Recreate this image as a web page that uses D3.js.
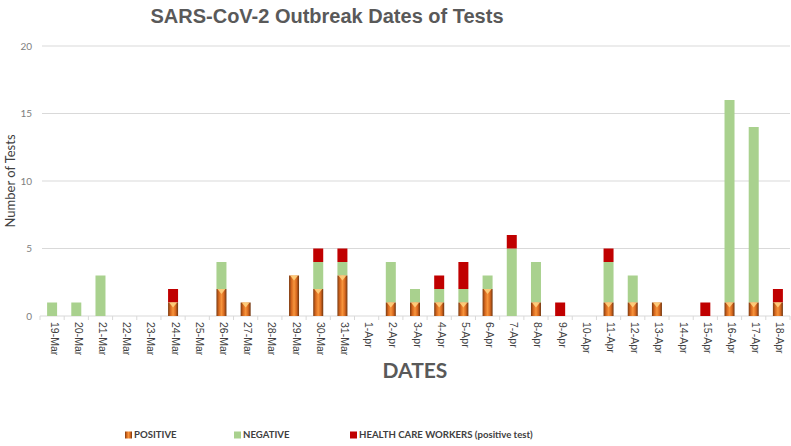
<!DOCTYPE html>
<html>
<head>
<meta charset="utf-8">
<script src="https://cdn.jsdelivr.net/npm/d3@7"></script>
<style>
  body { margin: 0; background: #fff; }
  svg { display: block; }
</style>
</head>
<body>
<div id="chart"></div>
<script>
const dates = ["19-Mar","20-Mar","21-Mar","22-Mar","23-Mar","24-Mar","25-Mar","26-Mar","27-Mar","28-Mar",
  "29-Mar","30-Mar","31-Mar","1-Apr","2-Apr","3-Apr","4-Apr","5-Apr","6-Apr","7-Apr","8-Apr","9-Apr",
  "10-Apr","11-Apr","12-Apr","13-Apr","14-Apr","15-Apr","16-Apr","17-Apr","18-Apr"];
const positive = [0,0,0,0,0,1,0,2,1,0,3,2,3,0,1,1,1,1,2,0,1,0,0,1,1,1,0,0,1,1,1];
const negative = [1,1,3,0,0,0,0,2,0,0,0,2,1,0,3,1,1,1,1,5,3,0,0,3,2,0,0,0,15,13,0];
const healthWorkers = [0,0,0,0,0,1,0,0,0,0,0,1,1,0,0,0,1,2,0,1,0,1,0,1,0,0,0,1,0,0,1];
const yTicks = [0, 5, 10, 15, 20];

const width = 791, height = 446;
const margin = { left: 40, right: 1, top: 46, bottom: 130 };

const svg = d3.select("#chart").append("svg")
  .attr("width", width)
  .attr("height", height);

// gradient for the "3D" positive bars
const defs = svg.append("defs");
const grad = defs.append("linearGradient").attr("id", "posGrad")
  .attr("x1", "0%").attr("x2", "100%").attr("y1", "0%").attr("y2", "0%");
grad.append("stop").attr("offset", "0%").attr("stop-color", "#7b3a10");
grad.append("stop").attr("offset", "25%").attr("stop-color", "#d8691f");
grad.append("stop").attr("offset", "50%").attr("stop-color", "#f7953c");
grad.append("stop").attr("offset", "75%").attr("stop-color", "#d8691f");
grad.append("stop").attr("offset", "100%").attr("stop-color", "#6e330d");

const x = d3.scaleBand()
  .domain(dates)
  .range([margin.left, width - margin.right])
  .padding(0);

const y = d3.scaleLinear()
  .domain([0, 20])
  .range([height - margin.bottom, margin.top]);

const barW = 10;

// gridlines
svg.append("g")
  .selectAll("line")
  .data(yTicks.filter(d => d > 0))
  .join("line")
  .attr("x1", margin.left + 2)
  .attr("x2", width - margin.right)
  .attr("y1", d => y(d))
  .attr("y2", d => y(d))
  .attr("stroke", "#d9d9d9")
  .attr("stroke-width", 1);

// y tick labels
svg.append("g")
  .selectAll("text")
  .data(yTicks)
  .join("text")
  .attr("x", 32)
  .attr("y", d => y(d))
  .attr("dy", "0.35em")
  .attr("text-anchor", "end")
  .attr("fill", "#808080")
  .attr("font-family", "Lato, 'Open Sans', sans-serif")
  .attr("font-size", "10px")
  .text(d => d);

// x axis line and boundary ticks
svg.append("line")
  .attr("x1", margin.left)
  .attr("x2", width - margin.right)
  .attr("y1", y(0))
  .attr("y2", y(0))
  .attr("stroke", "#d9d9d9");

svg.append("g")
  .selectAll("line")
  .data(dates.concat(["end"]))
  .join("line")
  .attr("x1", (d, i) => margin.left + i * x.step())
  .attr("x2", (d, i) => margin.left + i * x.step())
  .attr("y1", y(0))
  .attr("y2", y(0) + 4)
  .attr("stroke", "#d9d9d9");

// stacked data
const rows = dates.map((d, i) => ({
  date: d,
  positive: positive[i],
  negative: negative[i],
  hcw: healthWorkers[i]
}));
const stack = d3.stack().keys(["positive", "negative", "hcw"]);
const series = stack(rows);
const colors = { negative: "#a9d18e", hcw: "#c00000" };

const bx = d => x(d.data.date) + x.bandwidth() / 2 - barW / 2;

// negative and HCW segments
series.filter(s => s.key !== "positive").forEach(s => {
  svg.append("g")
    .selectAll("rect")
    .data(s.filter(d => d[1] > d[0]))
    .join("rect")
    .attr("x", bx)
    .attr("y", d => y(d[1]))
    .attr("width", barW)
    .attr("height", d => y(d[0]) - y(d[1]))
    .attr("fill", colors[s.key]);
});

// positive segments with bevel look
const posData = series[0].filter(d => d[1] > d[0]);
const posG = svg.append("g");
posG.selectAll("rect")
  .data(posData)
  .join("rect")
  .attr("x", bx)
  .attr("y", d => y(d[1]))
  .attr("width", barW)
  .attr("height", d => y(d[0]) - y(d[1]))
  .attr("fill", "url(#posGrad)");
posG.selectAll("path")
  .data(posData)
  .join("path")
  .attr("d", d => {
    const x0 = bx(d), t = y(d[1]);
    return `M${x0 + 1},${t} L${x0 + barW - 1},${t} L${x0 + barW / 2},${t + 5} Z`;
  })
  .attr("fill", "#ffd27f")
  .attr("opacity", 0.9);

// x labels (rotated)
svg.append("g")
  .selectAll("text")
  .data(dates)
  .join("text")
  .attr("transform", d => `translate(${x(d) + x.bandwidth() / 2 - 1.5},${y(0) + 6}) rotate(90)`)
  .attr("text-anchor", "start")
  .attr("fill", "#404040")
  .attr("font-family", "'Liberation Sans', Arial, sans-serif")
  .attr("font-size", "10.5px")
  .text(d => d);

// title
svg.append("text")
  .attr("x", 327)
  .attr("y", 23)
  .attr("text-anchor", "middle")
  .attr("fill", "#595959")
  .attr("font-family", "'Liberation Sans', Arial, sans-serif")
  .attr("font-weight", "bold")
  .attr("font-size", "20px")
  .text("SARS-CoV-2 Outbreak Dates of Tests");

// y axis title
svg.append("text")
  .attr("transform", `translate(15,${y(10)}) rotate(-90)`)
  .attr("text-anchor", "middle")
  .attr("fill", "#404040")
  .attr("font-family", "Lato, 'Open Sans', sans-serif")
  .attr("font-size", "13px")
  .text("Number of Tests");

// x axis title
svg.append("text")
  .attr("x", 415)
  .attr("y", 378)
  .attr("text-anchor", "middle")
  .attr("fill", "#595959")
  .attr("font-family", "Lato, 'Open Sans', sans-serif")
  .attr("font-weight", "bold")
  .attr("font-size", "21px")
  .text("DATES");

// legend
const legendItems = [
  { label: "POSITIVE", x: 125, fill: "url(#posGrad)" },
  { label: "NEGATIVE", x: 234, fill: colors.negative },
  { label: "HEALTH CARE WORKERS (positive test)", x: 350, fill: colors.hcw }
];
const lg = svg.append("g").selectAll("g")
  .data(legendItems)
  .join("g")
  .attr("transform", d => `translate(${d.x},435)`);
lg.append("rect")
  .attr("x", 0).attr("y", -3.5)
  .attr("width", 7).attr("height", 7)
  .attr("fill", d => d.fill);
lg.append("text")
  .attr("x", 9)
  .attr("dy", "0.35em")
  .attr("fill", "#404040")
  .attr("font-family", "Lato, 'Open Sans', sans-serif")
  .attr("font-weight", "bold")
  .attr("font-size", "9.6px")
  .text(d => d.label);
</script>
</body>
</html>
